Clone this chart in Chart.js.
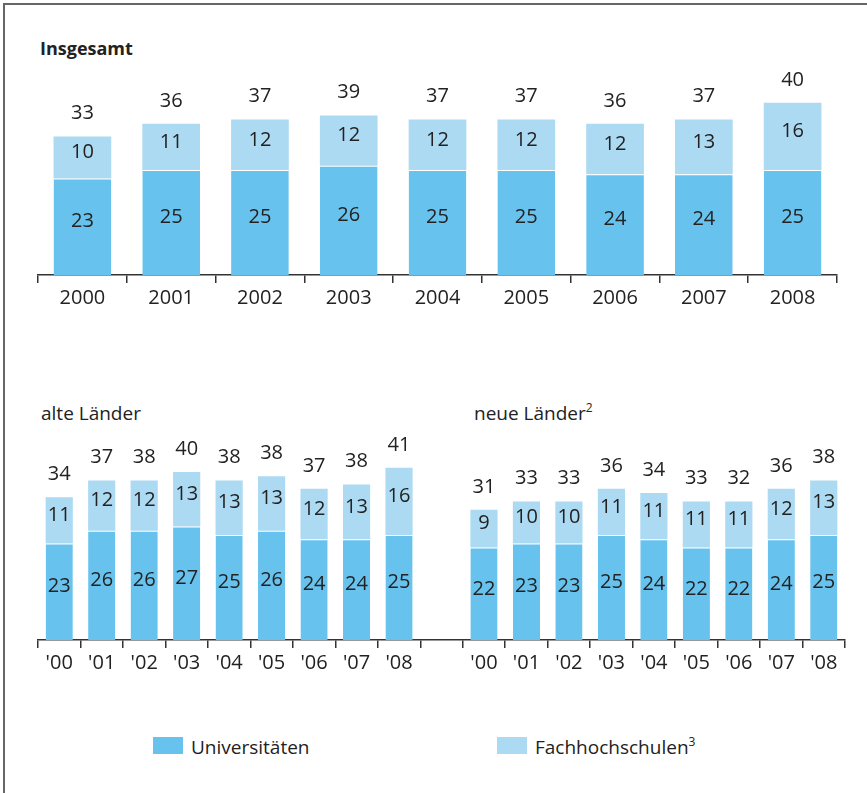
<!DOCTYPE html>
<html>
<head>
<meta charset="utf-8">
<script src="https://cdn.jsdelivr.net/npm/chart.js@4/dist/chart.umd.min.js"></script>
<style>
  body { margin: 0; background: #fff; font-family: "Open Sans", sans-serif; color: #222; }
  #page { position: relative; width: 867px; height: 793px; overflow: hidden; }
  #frame { position: absolute; left: 3px; top: 3px; width: 880px; height: 800px; border-left: 2px solid #666; border-top: 2px solid #666; }
  .title { position: absolute; font-size: 19px; line-height: 24px; white-space: nowrap; }
  .title sup, .leg sup { font-size: 12px; vertical-align: 0; position: relative; top: -8px; }
  .box { position: absolute; width: 30px; height: 17px; }
  .leg { position: absolute; font-size: 19px; line-height: 24px; white-space: nowrap; }
  canvas { position: absolute; }
</style>
</head>
<body>
<div id="page">
  <div id="frame"></div>
  <div class="title" style="left:40px; top:36px; font-weight:700; font-size:18px;">Insgesamt</div>
  <div class="title" style="left:41px; top:401px;">alte Länder</div>
  <div class="title" style="left:474px; top:401px;">neue Länder<sup>2</sup></div>

  <div style="position:absolute; left:0; top:0; width:867px; height:320px;"><canvas id="topChart"></canvas></div>
  <div style="position:absolute; left:0; top:420px; width:867px; height:265px;"><canvas id="bottomChart"></canvas></div>

  <div class="box" style="left:153px; top:737px; background:#67c3ee;"></div>
  <div class="leg" style="left:191px; top:735px;">Universitäten</div>
  <div class="box" style="left:497px; top:737px; background:#acdaf3;"></div>
  <div class="leg" style="left:535px; top:735px;">Fachhochschulen<sup>3</sup></div>
</div>
<script>
// --- Daten ---
const years = ['2000', '2001', '2002', '2003', '2004', '2005', '2006', '2007', '2008'];
const yearsShort = ["'00", "'01", "'02", "'03", "'04", "'05", "'06", "'07", "'08"];

const totalUni = [23, 25, 25, 26, 25, 25, 24, 24, 25];
const totalFh = [10, 11, 12, 12, 12, 12, 12, 13, 16];
const totalSum = [33, 36, 37, 39, 37, 37, 36, 37, 40];

const altUni = [23, 26, 26, 27, 25, 26, 24, 24, 25];
const altFh = [11, 12, 12, 13, 13, 13, 12, 13, 16];
const altSum = [34, 37, 38, 40, 38, 38, 37, 38, 41];

const neuUni = [22, 23, 23, 25, 24, 22, 22, 24, 25];
const neuFh = [9, 10, 10, 11, 11, 11, 11, 12, 13];
const neuSum = [31, 33, 33, 36, 34, 33, 32, 36, 38];

const uniColor = '#67c3ee';
const fhColor = '#acdaf3';
const textColor = '#222';
const axisColor = '#333';
const numFont = '20px "Open Sans"';

// Werte in den Balken + Summe darüber
const valueLabels = {
    id: 'valueLabels',
    afterDatasetsDraw(chart, args, opts) {
        const ctx = chart.ctx;
        ctx.save();
        ctx.font = numFont;
        ctx.fillStyle = textColor;
        ctx.textAlign = 'center';
        ctx.textBaseline = 'middle';
        chart.data.datasets.forEach((ds, di) => {
            const meta = chart.getDatasetMeta(di);
            meta.data.forEach((bar, i) => {
                const v = ds.data[i];
                if (v == null) return;
                ctx.fillText(v, bar.x, (bar.y + bar.base) / 2 - 5);
            });
        });
        const topMeta = chart.getDatasetMeta(chart.data.datasets.length - 1);
        opts.totals.forEach((t, i) => {
            if (t == null) return;
            const bar = topMeta.data[i];
            ctx.fillText(t, bar.x, bar.y - 23);
        });
        ctx.restore();
    }
};

function makeChart(id, labels, uni, fh, totals, barPct, pad) {
    return new Chart(document.getElementById(id), {
        type: 'bar',
        data: {
            labels: labels,
            datasets: [
                { label: 'Universitäten', data: uni, backgroundColor: uniColor,
                  borderColor: '#fff', borderWidth: { top: 1, left: 0, right: 0, bottom: 0 },
                  barPercentage: barPct, categoryPercentage: 1 },
                { label: 'Fachhochschulen', data: fh, backgroundColor: fhColor,
                  borderWidth: 0, barPercentage: barPct, categoryPercentage: 1 }
            ]
        },
        options: {
            responsive: true,
            maintainAspectRatio: false,
            animation: false,
            events: [],
            layout: { padding: pad },
            plugins: {
                legend: { display: false },
                tooltip: { enabled: false },
                valueLabels: { totals: totals }
            },
            scales: {
                x: {
                    stacked: true,
                    afterFit: s => { s.height = 45; },
                    grid: { display: true, drawOnChartArea: false, drawTicks: true, tickLength: 8, color: axisColor, lineWidth: 1.5 },
                    border: { display: true, color: axisColor, width: 1.5 },
                    ticks: { color: textColor, font: { family: 'Open Sans', size: 20 }, padding: 3, autoSkip: false, maxRotation: 0 }
                },
                y: { stacked: true, display: false, min: 0, max: 50 }
            }
        },
        plugins: [valueLabels]
    });
}

makeChart('topChart', years, totalUni, totalFh, totalSum, 0.65,
    { top: 65, left: 38, right: 30, bottom: 0 });

// untere Grafik: alte Länder, Lücke, neue Länder
const bottomLabels = [...yearsShort, '', ...yearsShort];
makeChart('bottomChart', bottomLabels,
    [...altUni, null, ...neuUni], [...altFh, null, ...neuFh], [...altSum, null, ...neuSum], 0.64,
    { top: 10, left: 38, right: 22, bottom: 0 });
</script>
</body>
</html>
